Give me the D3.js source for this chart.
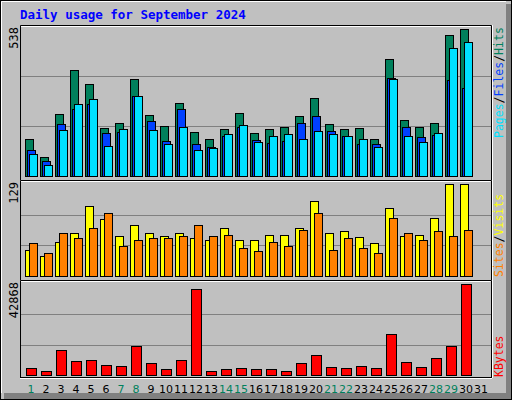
<!DOCTYPE html>
<html>
<head>
<meta charset="utf-8">
<script src="https://cdn.jsdelivr.net/npm/d3@7"></script>
<style>
  body { margin: 0; background: #fff; }
  svg { display: block; }
</style>
</head>
<body>
<div id="chart"></div>
<script>
const days = d3.range(1, 32)
const weekend = [1, 7, 8, 14, 15, 21, 22, 28, 29]

const hits = [132, 67, 221, 379, 329, 171, 189, 347, 218, 178, 261, 157, 132, 167, 225, 153, 167, 175, 214, 279, 185, 167, 171, 132, 418, 200, 175, 189, 505, 526, 0]
const files = [92, 53, 185, 239, 257, 153, 157, 286, 196, 124, 239, 114, 103, 142, 175, 128, 117, 124, 189, 214, 160, 142, 114, 114, 350, 175, 139, 146, 343, 315, 0]
const pages = [78, 38, 164, 257, 275, 107, 167, 286, 164, 114, 175, 92, 99, 149, 182, 121, 142, 149, 132, 160, 149, 142, 132, 103, 347, 142, 121, 153, 458, 480, 0]
const visits = [37, 28, 47, 60, 98, 80, 56, 71, 60, 56, 60, 53, 51, 67, 50, 50, 58, 58, 67, 105, 60, 63, 54, 46, 95, 56, 58, 81, 129, 129, 0]
const sites = [46, 32, 60, 53, 68, 88, 42, 51, 53, 53, 56, 71, 56, 58, 39, 35, 47, 42, 64, 88, 37, 53, 39, 32, 82, 60, 50, 63, 56, 65, 0]
const kbytes = [3140, 1727, 11620, 6437, 6909, 4553, 4082, 13503, 5495, 2669, 6909, 40350, 1727, 2669, 3140, 2669, 2669, 1727, 5495, 9264, 3611, 3140, 4082, 3140, 19156, 5967, 3611, 7851, 13503, 42710, 0]

const maxHits = 538, maxVisits = 129, maxKbytes = 42868

const W = 512, H = 400
const mono = "'DejaVu Sans Mono', monospace"
const svg = d3.select("#chart").append("svg").attr("width", W).attr("height", H)

// frame with bevel
svg.append("rect").attr("width", W).attr("height", H).attr("fill", "#c0c0c0")
svg.append("rect").attr("x", 506).attr("y", 4).attr("width", 5).attr("height", 395).attr("fill", "#808080")
svg.append("rect").attr("x", 4).attr("y", 393).attr("width", 507).attr("height", 6).attr("fill", "#808080")
svg.append("path").attr("d", "M1.5,393 V1.5 H506").attr("stroke", "#fff").attr("fill", "none")
svg.append("rect").attr("x", 0.5).attr("y", 0.5).attr("width", W - 1).attr("height", H - 1)
    .attr("fill", "none").attr("stroke", "#000")

svg.append("text").attr("x", 20).attr("y", 19)
    .attr("font-family", mono).attr("font-weight", "bold").attr("font-size", 12.5)
    .attr("fill", "#0000ff").text("Daily usage for September 2024")

const x = d3.scaleBand().domain(days).range([25, 25 + 15 * 31])

const panels = [
    { top: 25, bottom: 180, y: d3.scaleLinear().domain([0, maxHits]).range([176, 26]), max: maxHits },
    { top: 180, bottom: 280, y: d3.scaleLinear().domain([0, maxVisits]).range([276, 184]), max: maxVisits },
    { top: 280, bottom: 378, y: d3.scaleLinear().domain([0, maxKbytes]).range([375, 284]), max: maxKbytes }
]

panels.forEach((p) => {
    const g = svg.append("g")
    g.selectAll("line.grid").data([p.max / 3, p.max * 2 / 3]).enter().append("line")
        .attr("x1", 21).attr("x2", 491)
        .attr("y1", (d) => Math.round(p.y(d)) + 0.5).attr("y2", (d) => Math.round(p.y(d)) + 0.5)
        .attr("stroke", "#808080")
    g.append("path").attr("d", `M20.5,${p.bottom} V${p.top + 0.5} H491.5 V${p.bottom}`)
        .attr("stroke", "#000").attr("fill", "none")
    g.append("path").attr("d", `M21,${p.top + 1.5} H490.5 M492.5,${p.top} V${p.bottom}`)
        .attr("stroke", "#fff").attr("fill", "none")
    g.append("text")
        .attr("transform", `translate(18, ${p.top + 2}) rotate(-90)`)
        .attr("text-anchor", "end").attr("font-family", mono).attr("font-size", 12)
        .text(d3.format("d")(p.max))
})
// bottom edge of last panel
svg.append("path").attr("d", "M20,378.5 H492").attr("stroke", "#fff")
svg.append("path").attr("d", "M20,377.5 H492").attr("stroke", "#000")

const bars = (vals, y, dx, w, color) => {
    svg.append("g").selectAll("rect").data(vals.map((v, i) => ({ d: i + 1, v })).filter((d) => d.v > 0))
        .enter().append("rect")
        .attr("x", (d) => x(d.d) + dx + 0.5)
        .attr("y", (d) => Math.round(y(d.v)) + 0.5)
        .attr("width", w)
        .attr("height", (d) => Math.round(y(0)) - Math.round(y(d.v)))
        .attr("fill", color).attr("stroke", "#000")
}

bars(hits, panels[0].y, 0, 8, "#00805c")
bars(files, panels[0].y, 2, 8, "#0040ff")
bars(pages, panels[0].y, 4, 8, "#00e0ff")
bars(visits, panels[1].y, 0, 8, "#ffff00")
bars(sites, panels[1].y, 4, 8, "#ff8000")
bars(kbytes, panels[2].y, 1, 10, "#ff0000")

svg.append("g").selectAll("text").data(days).enter().append("text")
    .attr("x", (d) => x(d) + 6).attr("y", 393)
    .attr("text-anchor", "middle").attr("font-family", "'DejaVu Sans', sans-serif").attr("font-size", 11)
    .attr("fill", (d) => weekend.includes(d) ? "#00805c" : "#000")
    .text((d) => d)

// right legends
const legend = (y, parts) => {
    const t = svg.append("text")
        .attr("transform", `translate(503, ${y}) rotate(-90)`)
        .attr("font-family", mono).attr("font-size", 11.5)
    parts.forEach(([s, c]) => t.append("tspan").attr("fill", c).text(s))
}
legend(138, [["Pages", "#00e0ff"], ["/", "#000"], ["Files", "#0040ff"], ["/", "#000"], ["Hits", "#00805c"]])
legend(277, [["Sites", "#ff8000"], ["/", "#000"], ["Visits", "#ffff00"]])
legend(377, [["KBytes", "#ff0000"]])
</script>
</body>
</html>
